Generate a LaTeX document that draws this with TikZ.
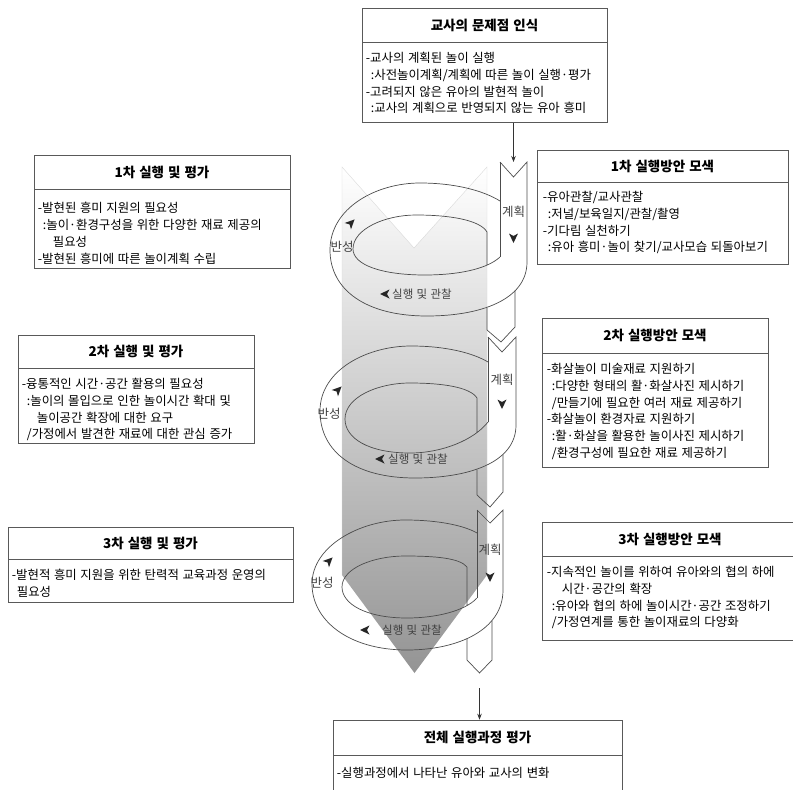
\documentclass[tikz,border=0pt]{standalone}
\usepackage{fontspec}
\setmainfont{Noto Sans CJK KR}[WordSpace=1.3]
\usetikzlibrary{positioning,arrows.meta}

\newcommand{\colind}{\hspace*{5pt}}
\newcommand{\contind}{\hspace*{15pt}}

\tikzset{
  headbox/.style={draw=black!65, line width=0.6pt, inner sep=0pt, font=\fontsize{13.5}{15}\selectfont\bfseries},
  bodybox/.style={draw=black!65, line width=0.6pt, inner sep=0pt},
  bodytext/.style={anchor=north west, inner sep=0pt, align=left, font=\fontsize{12.4}{16.7}\selectfont},
  ribbon/.style={draw=black!70, line width=0.7pt},
  looplabel/.style={inner sep=0pt, text=black!75, font=\fontsize{12.5}{14}\selectfont},
  tip/.pic={\fill[black!85] (-4.5,-4.5) -- (5,0) -- (-4.5,4.5) -- (-2,0) -- cycle;}
}

\begin{document}
\begin{tikzpicture}[x=1pt,y=-1pt]
  \useasboundingbox (0,0) rectangle (793,790);
  \clip (0,0) rectangle (793,790);

  % shaded column behind the spiral
  \shade[top color=white, middle color=black!7, bottom color=black!42]
    (342,167) -- (414,248) -- (487,167) -- (487,575) -- (414.5,673) -- (342,575) -- cycle;
  \draw[black!15] (342,575) -- (342,167) -- (414,248) -- (487,167) -- (487,575);

  % loop 1
  \draw[ribbon] (500,162) -- (513.5,177) -- (527,162) -- (527,262)
    .. controls (527,300) and (480,316) .. (427,316)
    .. controls (366,316) and (330,290) .. (330,250)
    .. controls (330,208) and (376,183) .. (420,183)
    .. controls (456,183) and (484,191) .. (500,201);
  \draw[ribbon] (500,162) -- (500,257);
  \draw[ribbon] (500,257) .. controls (486,270) and (455,275) .. (425,275)
    .. controls (382,275) and (353,265) .. (353,249)
    .. controls (353,229) and (385,215) .. (416,215)
    .. controls (450,215) and (480,220) .. (487,232) -- (487,265);
  \draw[ribbon] (487,307.5) -- (487,330) -- (501,342) -- (515,327) -- (515,290.5);

  % loop 2
  \draw[ribbon] (488,337) -- (502,352) -- (516,337) -- (516,425)
    .. controls (516,463) and (468,478) .. (415,478)
    .. controls (355,478) and (320,452) .. (320,411)
    .. controls (320,370) and (367,346) .. (411,346)
    .. controls (446,346) and (473,353) .. (488,362);
  \draw[ribbon] (488,337) -- (488,422);
  \draw[ribbon] (488,422) .. controls (474,440) and (442,453) .. (410,453)
    .. controls (368,453) and (345,438) .. (345,419)
    .. controls (345,397) and (378,383) .. (410,383)
    .. controls (442,383) and (470,387) .. (477,398) -- (477,432);
  \draw[ribbon] (477,469.5) -- (477,495) -- (490,507) -- (503,492) -- (503,454.5);

  % loop 3
  \draw[ribbon] (477,510) -- (490,523) -- (503,510) -- (503,590)
    .. controls (503,630) and (458,650) .. (407,650)
    .. controls (348,650) and (312,620) .. (312,584)
    .. controls (312,546) and (360,520) .. (405,520)
    .. controls (440,520) and (465,526) .. (477,533);
  \draw[ribbon] (477,510) -- (477,598);
  \draw[ribbon] (477,598) .. controls (465,611) and (436,618) .. (407,618)
    .. controls (366,618) and (342,604) .. (342,587)
    .. controls (342,568) and (374,556) .. (405,556)
    .. controls (435,556) and (460,558) .. (467,567) -- (467,605.5);
  \draw[ribbon] (467,638.5) -- (467,660) -- (479.5,673) -- (492,660) -- (492,620.7);

  % loop labels
  \node[looplabel] (plan1) at (513.5,212) {계획};
  \node[looplabel] (refl1) at (342,247) {반성};
  \node[looplabel, font=\fontsize{11.5}{13}\selectfont] (act1) at (422,294) {실행 및 관찰};
  \path (513.5,238) pic[rotate=-90] {tip};
  \path (351,223) pic[rotate=45] {tip};
  \path (385,294) pic[rotate=180] {tip};

  \node[looplabel] (plan2) at (502,380) {계획};
  \node[looplabel] (refl2) at (329,414) {반성};
  \node[looplabel, font=\fontsize{11.5}{13}\selectfont] (act2) at (418,459) {실행 및 관찰};
  \path (502,404) pic[rotate=-90] {tip};
  \path (338,390) pic[rotate=45] {tip};
  \path (380,459) pic[rotate=180] {tip};

  \node[looplabel] (plan3) at (490,550) {계획};
  \node[looplabel] (refl3) at (322,583) {반성};
  \node[looplabel, font=\fontsize{11.5}{13}\selectfont] (act3) at (412,630) {실행 및 관찰};
  \path (490,577) pic[rotate=-90] {tip};
  \path (329,561) pic[rotate=45] {tip};
  \path (365,630) pic[rotate=180] {tip};

  % boxes
  \node[headbox, minimum width=245pt, minimum height=34pt] (t0) at (484.5,25) {교사의 문제점 인식};
  \node[bodybox, minimum width=245pt, minimum height=80pt, below=0pt of t0] (b0) {};
  \node[bodytext] (x0) at ([xshift=4pt,yshift=-10pt]b0.north west)
    {-교사의 계획된 놀이 실행\\\colind:사전놀이계획/계획에 따른 놀이 실행·평가\\-고려되지 않은 유아의 발현적 놀이\\\colind:교사의 계획으로 반영되지 않는 유아 흥미};

  \node[headbox, minimum width=256pt, minimum height=34pt] (t1) at (162,172) {1차 실행 및 평가};
  \node[bodybox, minimum width=256pt, minimum height=79pt, below=0pt of t1] (b1) {};
  \node[bodytext] (x1) at ([xshift=4pt,yshift=-13pt]b1.north west)
    {-발현된 흥미 지원의 필요성\\\colind:놀이·환경구성을 위한 다양한 재료 제공의\\\contind 필요성\\-발현된 흥미에 따른 놀이계획 수립};

  \node[headbox, minimum width=251pt, minimum height=32pt] (t2) at (662.5,166) {1차 실행방안 모색};
  \node[bodybox, minimum width=251pt, minimum height=82pt, below=0pt of t2] (b2) {};
  \node[bodytext] (x2) at ([xshift=6pt,yshift=-9pt]b2.north west)
    {-유아관찰/교사관찰\\\colind:저널/보육일지/관찰/촬영\\-기다림 실천하기\\\colind:유아 흥미·놀이 찾기/교사모습 되돌아보기};

  \node[headbox, minimum width=236pt, minimum height=33pt] (t3) at (136,351.5) {2차 실행 및 평가};
  \node[bodybox, minimum width=236pt, minimum height=75pt, below=0pt of t3] (b3) {};
  \node[bodytext] (x3) at ([xshift=4pt,yshift=-10pt]b3.north west)
    {-융통적인 시간·공간 활용의 필요성\\\colind:놀이의 몰입으로 인한 놀이시간 확대 및\\\contind 놀이공간 확장에 대한 요구\\\colind/가정에서 발견한 재료에 대한 관심 증가};

  \node[headbox, minimum width=226pt, minimum height=35pt] (t4) at (655,335.5) {2차 실행방안 모색};
  \node[bodybox, minimum width=226pt, minimum height=114pt, below=0pt of t4] (b4) {};
  \node[bodytext] (x4) at ([xshift=5pt,yshift=-10pt]b4.north west)
    {-화살놀이 미술재료 지원하기\\\colind:다양한 형태의 활·화살사진 제시하기\\\colind/만들기에 필요한 여러 재료 제공하기\\-화살놀이 환경자료 지원하기\\\colind:활·화살을 활용한 놀이사진 제시하기\\\colind/환경구성에 필요한 재료 제공하기};

  \node[headbox, minimum width=285pt, minimum height=32pt] (t5) at (150.5,543) {3차 실행 및 평가};
  \node[bodybox, minimum width=285pt, minimum height=43pt, below=0pt of t5] (b5) {};
  \node[bodytext] (x5) at ([xshift=4pt,yshift=-10pt]b5.north west)
    {-발현적 흥미 지원을 위한 탄력적 교육과정 운영의\\\colind 필요성};

  \node[headbox, minimum width=256pt, minimum height=34pt] (t6) at (670,539) {3차 실행방안 모색};
  \node[bodybox, minimum width=256pt, minimum height=84pt, below=0pt of t6] (b6) {};
  \node[bodytext] (x6) at ([xshift=5pt,yshift=-10pt]b6.north west)
    {-지속적인 놀이를 위하여 유아와의 협의 하에\\\contind 시간·공간의 확장\\\colind:유아와 협의 하에 놀이시간·공간 조정하기\\\colind/가정연계를 통한 놀이재료의 다양화};

  \node[headbox, minimum width=289pt, minimum height=35pt] (t7) at (477.5,737.5) {전체 실행과정 평가};
  \node[bodybox, minimum width=289pt, minimum height=36pt, below=0pt of t7] (b7) {};
  \node[bodytext] (x7) at ([xshift=4pt,yshift=-12pt]b7.north west)
    {-실행과정에서 나타난 유아와 교사의 변화};

  % connectors
  \coordinate (s1) at (513.5,162);
  \coordinate (s3) at (479.5,688);
  \draw[black!80, line width=0.6pt, -{Stealth[length=6pt,width=4.5pt]}] (b0.south -| s1) -- (s1);
  \draw[black!80, line width=0.6pt, -{Stealth[length=6pt,width=4.5pt]}] (s3) -- (s3 |- t7.north);
\end{tikzpicture}
\end{document}
